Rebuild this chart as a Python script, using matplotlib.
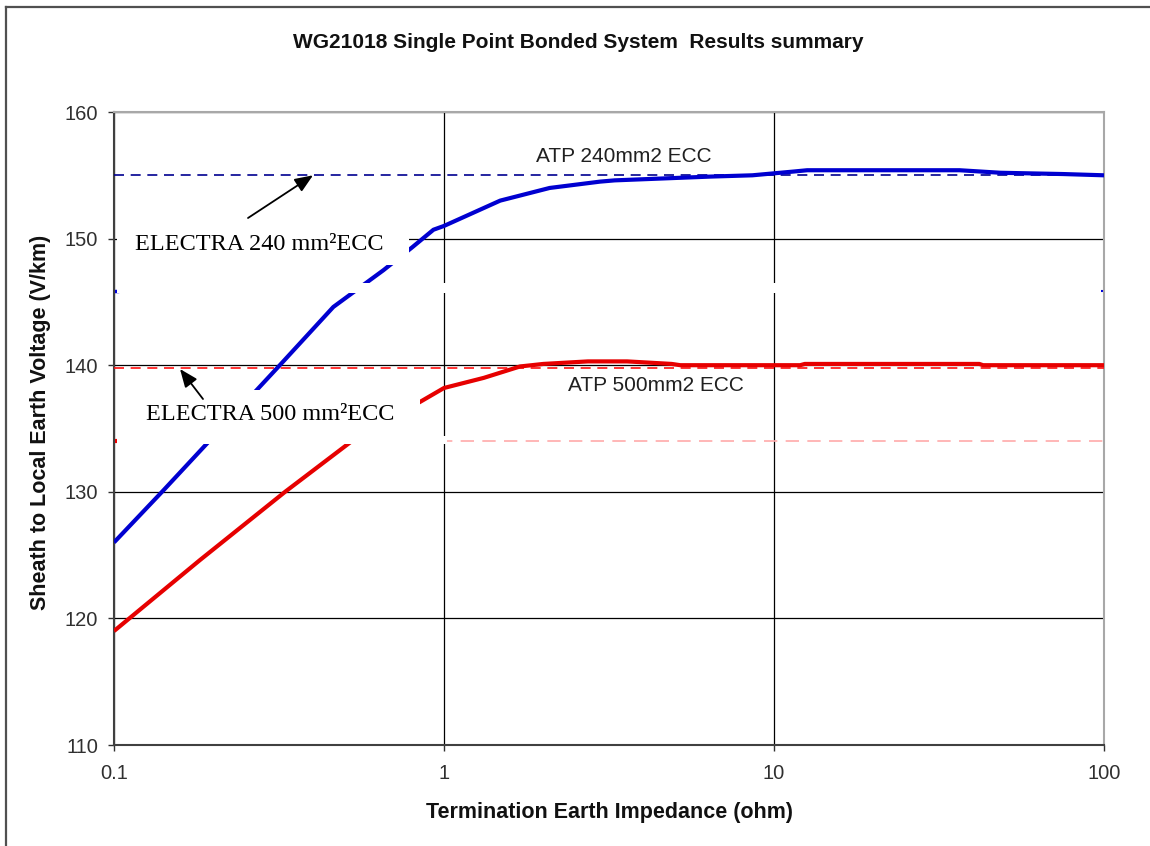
"""
Sheath voltage vs termination earth impedance for a single point bonded
system: ATP results for 240 and 500 mm2 ECC against the ELECTRA values.
"""

import matplotlib
matplotlib.use('Agg')
import matplotlib.pyplot as plt
from matplotlib.patches import Rectangle

plt.rcParams['font.family'] = ['Liberation Sans', 'DejaVu Sans']

# ATP 240mm2 ECC run
imp_240 = [0.1, 0.141, 0.318, 0.462, 0.655, 0.8, 0.929, 1.0, 1.48, 2.09, 2.97,
           3.29, 6.44, 8.6, 11.5, 12.6, 36.5, 48.6, 75, 100]
volt_240 = [126.0, 130.1, 140.0, 144.6, 147.5, 149.3, 150.7, 151.0, 153.0, 154.0, 154.5,
            154.6, 154.9, 155.0, 155.3, 155.4, 155.4, 155.2, 155.1, 155.0]

# ATP 500mm2 ECC run
imp_500 = [0.1, 0.182, 0.33, 0.544, 0.846, 1.0, 1.32, 1.70, 2.0, 2.73, 3.59,
           4.9, 5.2, 12.0, 12.4, 41.9, 43, 100]
volt_500 = [119.0, 124.6, 130.0, 134.3, 137.1, 138.2, 139.0, 139.9, 140.1, 140.3, 140.3,
            140.1, 140.0, 140.0, 140.1, 140.1, 140.0, 140.0]

# ELECTRA reference values (V/km)
electra_240 = 155.0
electra_500 = 139.8
# leftover series hidden under the white patches
hidden_blue = 145.9
hidden_red = 134.0

x_range = [0.1, 100]
x_ticks = [0.1, 1, 10, 100]
x_ticklabels = ['0.1', '1', '10', '100']
y_ticks = [110, 120, 130, 140, 150, 160]

# plot area in pixels: x 114..1104, y 112..745
X0, X1, Y0, Y1 = 114, 1104, 112, 745
DEC = (X1 - X0) / 3


def px_imp(px):
    """Impedance at a horizontal pixel position of the plot area."""
    return 0.1 * 10 ** ((px - X0) / DEC)


def px_volt(py):
    """Voltage at a vertical pixel position of the plot area."""
    return 160 - (py - Y0) * 50 / (Y1 - Y0)


fig = plt.figure(figsize=(11.5, 8.46), dpi=100)
ax = fig.add_axes([X0 / 1150, 1 - Y1 / 846, (X1 - X0) / 1150, (Y1 - Y0) / 846])

ax.set_xscale('log')
ax.set_xlim(x_range)
ax.set_ylim(110, 160)
ax.set_xticks(x_ticks)
ax.set_xticklabels(x_ticklabels)
ax.minorticks_off()
ax.set_yticks(y_ticks)
ax.tick_params(axis='both', labelsize=14.5, colors='#303030', length=4.5, width=1)
ax.tick_params(axis='x', pad=9)
ax.tick_params(axis='y', pad=7)
ax.grid(True, color='black', linewidth=0.9, zorder=1)
ax.set_axisbelow(True)

for side in ['left', 'bottom']:
    ax.spines[side].set_color('#404040')
    ax.spines[side].set_linewidth(1.5)
for side in ['top', 'right']:
    ax.spines[side].set_color('#a8a8a8')
    ax.spines[side].set_linewidth(1.5)

# Hidden leftovers (only their ends show through)
ax.plot([px_imp(X0), px_imp(X0 + 3)], [hidden_blue, hidden_blue],
        color='#0000dd', lw=2.5, zorder=2)
ax.plot([px_imp(X1 - 3), px_imp(X1)], [hidden_blue, hidden_blue],
        color='#0000dd', lw=1.5, zorder=2)
ax.plot(x_range, [hidden_red, hidden_red], color='#ffaaaa', lw=1.2,
        dashes=(8, 5), zorder=2)
ax.plot([px_imp(X0), px_imp(X0 + 4)], [hidden_red, hidden_red],
        color='#ee0000', lw=3, zorder=2)

# ELECTRA reference levels
ax.plot(x_range, [electra_240, electra_240], color='#000090', lw=1.2,
        dashes=(6, 4), zorder=3)
ax.plot(x_range, [electra_500, electra_500], color='#ff1010', lw=1.2,
        dashes=(6, 4), zorder=3)

# ATP results
ax.plot(imp_240, volt_240, color='#0000d0', lw=3, zorder=4, solid_capstyle='butt')
ax.plot(imp_500, volt_500, color='#e60000', lw=3, zorder=4, solid_capstyle='butt')

ax.text(px_imp(536), px_volt(156), 'ATP 240mm2 ECC', fontsize=15, color='#202020',
        va='center', ha='left', zorder=6)
ax.text(px_imp(568), px_volt(385), 'ATP 500mm2 ECC', fontsize=15, color='#202020',
        va='center', ha='left', zorder=6)


def px_box(x0, x1, y0, y1):
    """White patch given in pixel edges of the plot area."""
    return Rectangle(((x0 - X0) / (X1 - X0), (Y1 - y1) / (Y1 - Y0)),
                     (x1 - x0) / (X1 - X0), (y1 - y0) / (Y1 - Y0),
                     transform=ax.transAxes, facecolor='white',
                     edgecolor='none', zorder=5, clip_on=False)


# white bands left from an old legend
ax.add_patch(px_box(117, 500, 283, 293))
ax.add_patch(px_box(763, 1101, 283, 293))
ax.add_patch(px_box(117, 447, 436, 444))

# ELECTRA labels with their boxes and arrows
ax.add_patch(px_box(117, 409, 226, 265))
ax.add_patch(px_box(117, 420, 390, 437))
serif = ['Liberation Serif', 'DejaVu Serif']
ax.text(px_imp(135), px_volt(244), 'ELECTRA 240 mm²ECC', family=serif,
        fontsize=17.5, va='center', ha='left', zorder=6)
ax.text(px_imp(146), px_volt(414), 'ELECTRA 500 mm²ECC', family=serif,
        fontsize=17.5, va='center', ha='left', zorder=6)

arrow = dict(arrowstyle='-|>,head_length=1.1,head_width=0.45',
             color='black', lw=1.3, shrinkA=0, shrinkB=0)
ax.annotate('', xy=(px_imp(313), electra_240), xytext=(px_imp(248), px_volt(218)),
            arrowprops=arrow, zorder=7)
ax.annotate('', xy=(px_imp(180), px_volt(369)), xytext=(px_imp(203), px_volt(399)),
            arrowprops=arrow, zorder=7)

fig.text(0.503, 1 - 42 / 846, 'WG21018 Single Point Bonded System  Results summary',
         fontsize=15, fontweight='bold', ha='center', va='center', color='#111111')
fig.text(0.530, 1 - 812 / 846, 'Termination Earth Impedance (ohm)',
         fontsize=15.5, fontweight='bold', ha='center', va='center', color='#111111')
fig.text(0.035, 1 - 422 / 846, 'Sheath to Local Earth Voltage (V/km)',
         fontsize=15.5, fontweight='bold', ha='center', va='center',
         rotation=90, color='#111111')

# outer chart frame (top and left edges only)
fig.add_artist(plt.Line2D([6 / 1150, 1], [1 - 7 / 846, 1 - 7 / 846],
                          transform=fig.transFigure, color='#505050', lw=1.6))
fig.add_artist(plt.Line2D([6 / 1150, 6 / 1150], [0, 1 - 7 / 846],
                          transform=fig.transFigure, color='#505050', lw=1.6))

fig.savefig('out.png', dpi=100)
